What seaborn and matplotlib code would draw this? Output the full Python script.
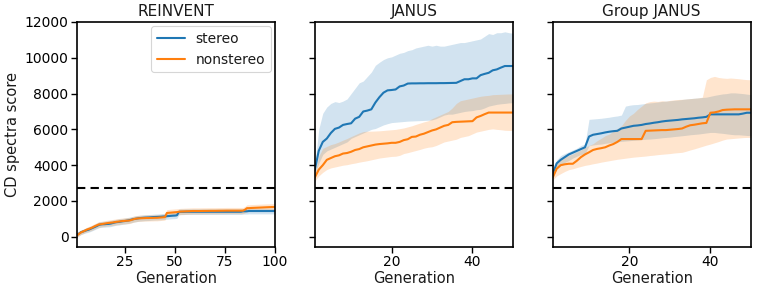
import numpy as np
import pandas as pd
import seaborn as sns
import matplotlib
matplotlib.use("Agg")
import matplotlib.pyplot as plt

# ---------------- data ----------------
reinvent_gen = list(range(1, 101))
reinvent_stereo_mean = [100, 170, 250, 290, 330, 370, 400, 450, 500, 550,
                        600, 660, 690, 700, 705, 715, 720, 740, 770, 800,
                        820, 830, 850, 870, 880, 900, 920, 950, 980, 1000,
                        1020, 1040, 1050, 1060, 1070, 1075, 1080, 1090, 1100, 1105,
                        1110, 1115, 1120, 1130, 1140, 1150, 1160, 1170, 1180, 1185,
                        1200, 1390, 1395, 1395, 1398, 1400, 1400, 1400, 1400, 1400,
                        1400, 1400, 1400, 1400, 1400, 1400, 1400, 1400, 1400, 1400,
                        1400, 1400, 1400, 1400, 1400, 1400, 1400, 1400, 1400, 1400,
                        1400, 1400, 1400, 1425, 1425, 1425, 1440, 1440, 1440, 1440,
                        1440, 1440, 1440, 1440, 1440, 1440, 1440, 1440, 1440, 1440]
reinvent_stereo_lo = [0, 50, 120, 160, 200, 230, 260, 300, 350, 400,
                      450, 500, 530, 540, 540, 550, 555, 570, 600, 630,
                      650, 660, 680, 700, 710, 730, 750, 780, 810, 830,
                      850, 870, 880, 890, 900, 905, 910, 920, 930, 935,
                      940, 945, 950, 960, 970, 980, 990, 1000, 1010, 1015,
                      1030, 1230, 1240, 1240, 1245, 1250, 1250, 1250, 1250, 1250,
                      1250, 1250, 1250, 1250, 1250, 1250, 1250, 1250, 1250, 1250,
                      1250, 1250, 1250, 1250, 1250, 1250, 1250, 1250, 1250, 1250,
                      1250, 1250, 1250, 1270, 1270, 1270, 1280, 1280, 1280, 1280,
                      1280, 1280, 1280, 1280, 1280, 1280, 1280, 1280, 1280, 1280]
reinvent_stereo_hi = [230, 300, 380, 420, 470, 510, 550, 600, 650, 700,
                      760, 820, 850, 860, 870, 880, 890, 910, 940, 960,
                      980, 1000, 1010, 1030, 1050, 1070, 1090, 1110, 1140, 1160,
                      1180, 1200, 1210, 1220, 1230, 1240, 1245, 1250, 1260, 1270,
                      1275, 1280, 1290, 1300, 1310, 1320, 1330, 1340, 1350, 1360,
                      1370, 1550, 1555, 1555, 1558, 1560, 1560, 1560, 1560, 1560,
                      1560, 1560, 1560, 1560, 1560, 1560, 1560, 1560, 1560, 1560,
                      1560, 1560, 1560, 1560, 1560, 1560, 1560, 1560, 1560, 1560,
                      1560, 1560, 1560, 1580, 1580, 1580, 1600, 1600, 1600, 1600,
                      1600, 1600, 1600, 1600, 1600, 1600, 1600, 1600, 1600, 1600]
reinvent_nonstereo_mean = [75, 150, 240, 290, 340, 400, 440, 480, 530, 590,
                           640, 690, 700, 720, 740, 760, 775, 790, 800, 820,
                           840, 850, 870, 880, 890, 900, 905, 930, 970, 1000,
                           1020, 1030, 1035, 1040, 1045, 1050, 1050, 1055, 1055, 1060,
                           1060, 1070, 1080, 1090, 1100, 1330, 1340, 1350, 1360, 1370,
                           1380, 1400, 1410, 1415, 1420, 1425, 1430, 1435, 1440, 1440,
                           1440, 1440, 1442, 1444, 1445, 1446, 1448, 1450, 1450, 1450,
                           1452, 1454, 1455, 1456, 1458, 1460, 1460, 1460, 1460, 1460,
                           1460, 1460, 1460, 1460, 1515, 1600, 1600, 1610, 1615, 1620,
                           1625, 1630, 1635, 1640, 1645, 1650, 1655, 1660, 1665, 1665]
reinvent_nonstereo_lo = [-20, 40, 120, 170, 220, 270, 300, 340, 380, 440,
                         490, 530, 540, 560, 580, 600, 610, 620, 630, 650,
                         670, 680, 700, 710, 720, 730, 735, 760, 800, 830,
                         850, 860, 865, 870, 875, 880, 880, 885, 885, 890,
                         890, 900, 910, 920, 930, 1150, 1160, 1170, 1180, 1190,
                         1200, 1230, 1240, 1245, 1250, 1255, 1260, 1265, 1270, 1270,
                         1270, 1270, 1272, 1274, 1275, 1276, 1278, 1280, 1280, 1280,
                         1282, 1284, 1285, 1286, 1288, 1290, 1290, 1290, 1290, 1290,
                         1290, 1290, 1290, 1290, 1340, 1420, 1420, 1430, 1435, 1440,
                         1445, 1450, 1455, 1460, 1465, 1470, 1475, 1480, 1485, 1485]
reinvent_nonstereo_hi = [180, 270, 360, 410, 460, 530, 580, 620, 680, 740,
                         790, 850, 860, 880, 900, 920, 940, 960, 970, 990,
                         1010, 1020, 1040, 1050, 1060, 1070, 1080, 1100, 1140, 1170,
                         1190, 1200, 1210, 1215, 1220, 1225, 1225, 1230, 1230, 1235,
                         1235, 1245, 1255, 1265, 1275, 1520, 1530, 1540, 1550, 1560,
                         1570, 1580, 1590, 1595, 1600, 1605, 1610, 1615, 1620, 1620,
                         1620, 1620, 1622, 1624, 1625, 1626, 1628, 1630, 1630, 1630,
                         1632, 1634, 1635, 1636, 1638, 1640, 1640, 1640, 1640, 1640,
                         1640, 1640, 1640, 1640, 1700, 1790, 1790, 1800, 1805, 1810,
                         1815, 1820, 1825, 1830, 1835, 1840, 1845, 1850, 1855, 1855]

janus_gen = list(range(1, 51))
janus_stereo_mean = [3700, 4800, 5300, 5490, 5800, 6030, 6100, 6250, 6300, 6340,
                     6600, 6700, 7000, 7050, 7120, 7500, 7800, 8050, 8180, 8200,
                     8230, 8400, 8450, 8560, 8570, 8570, 8575, 8575, 8580, 8580,
                     8580, 8585, 8585, 8590, 8595, 8600, 8700, 8800, 8800, 8850,
                     8850, 9030, 9100, 9160, 9300, 9350, 9450, 9540, 9540, 9540]
janus_stereo_lo = [3500, 4100, 4600, 4800, 4900, 5000, 5100, 5200, 5300, 5500,
                   5600, 5700, 5800, 5900, 6000, 6050, 6150, 6250, 6320, 6380,
                   6400, 6420, 6440, 6460, 6470, 6480, 6490, 6500, 6510, 6530,
                   6600, 6700, 6800, 6850, 6850, 6900, 6950, 7000, 7030, 7050,
                   7100, 7120, 7200, 7300, 7350, 7400, 7430, 7450, 7480, 7490]
janus_stereo_hi = [3900, 6000, 6900, 7250, 7450, 7550, 7500, 7580, 7700, 8000,
                   8300, 8600, 8700, 8950, 9200, 9580, 9750, 9900, 10000, 10050,
                   10150, 10250, 10300, 10400, 10450, 10550, 10600, 10650, 10700, 10650,
                   10700, 10650, 10650, 10700, 10750, 10800, 10850, 10850, 10900, 10950,
                   11000, 11050, 11200, 11350, 11300, 11400, 11400, 11450, 11400, 11370]
janus_nonstereo_mean = [3300, 3750, 4000, 4300, 4400, 4500, 4550, 4650, 4680, 4750,
                        4850, 4900, 5000, 5050, 5100, 5150, 5180, 5200, 5220, 5250,
                        5250, 5300, 5400, 5450, 5580, 5600, 5700, 5760, 5850, 5940,
                        6000, 6100, 6200, 6250, 6400, 6420, 6430, 6440, 6450, 6460,
                        6670, 6750, 6850, 6940, 6940, 6940, 6940, 6940, 6940, 6940]
janus_nonstereo_lo = [3100, 3400, 3600, 3760, 3850, 3900, 3950, 4000, 4030, 4080,
                      4120, 4170, 4210, 4250, 4300, 4350, 4400, 4430, 4460, 4490,
                      4500, 4550, 4650, 4700, 4760, 4820, 4880, 4950, 5000, 5030,
                      5100, 5200, 5300, 5350, 5400, 5450, 5550, 5600, 5650, 5750,
                      5850, 5900, 5950, 6000, 6030, 6000, 5980, 5950, 5940, 5940]
janus_nonstereo_hi = [3500, 4500, 4940, 5050, 5150, 5210, 5300, 5400, 5490, 5600,
                      5700, 5800, 5880, 5900, 5900, 5910, 5920, 5940, 5960, 5980,
                      6000, 6040, 6080, 6140, 6200, 6280, 6350, 6420, 6480, 6600,
                      6700, 6800, 6900, 7000, 7200, 7450, 7600, 7650, 7700, 7750,
                      7800, 7850, 7880, 7900, 7940, 7950, 7960, 7970, 7980, 7980]

group_gen = list(range(1, 51))
group_stereo_mean = [3500, 4100, 4300, 4450, 4600, 4700, 4800, 4900, 5000, 5600,
                     5700, 5740, 5780, 5830, 5870, 5900, 5920, 6050, 6100, 6150,
                     6200, 6220, 6250, 6300, 6330, 6370, 6400, 6440, 6470, 6490,
                     6510, 6530, 6560, 6580, 6600, 6620, 6650, 6670, 6700, 6840,
                     6840, 6840, 6840, 6840, 6840, 6840, 6840, 6880, 6930, 6930]
group_stereo_lo = [3300, 3800, 4000, 4150, 4260, 4400, 4500, 4600, 4630, 5090,
                   5130, 5160, 5180, 5220, 5250, 5280, 5310, 5330, 5350, 5370,
                   5390, 5410, 5430, 5450, 5460, 5480, 5500, 5530, 5550, 5570,
                   5600, 5620, 5645, 5670, 5700, 5720, 5740, 5770, 5800, 5830,
                   5830, 5800, 5780, 5750, 5720, 5700, 5700, 5680, 5660, 5650]
group_stereo_hi = [3700, 4300, 4540, 4650, 4750, 4850, 4950, 5100, 5180, 6560,
                   6580, 6600, 6620, 6650, 6680, 6720, 6750, 6800, 7300, 7350,
                   7380, 7390, 7420, 7450, 7480, 7500, 7530, 7560, 7580, 7600,
                   7620, 7640, 7670, 7700, 7720, 7740, 7760, 7780, 7800, 7850,
                   7900, 7940, 7980, 8000, 8040, 8040, 8020, 8000, 7970, 7940]
group_nonstereo_mean = [3300, 3800, 4000, 4050, 4080, 4080, 4250, 4450, 4600, 4720,
                        4850, 4910, 4950, 5000, 5100, 5180, 5300, 5460, 5460, 5460,
                        5460, 5460, 5460, 5920, 5930, 5940, 5950, 5960, 5960, 5980,
                        6000, 6020, 6050, 6150, 6230, 6260, 6300, 6340, 6360, 6930,
                        6950, 7000, 7080, 7100, 7110, 7120, 7120, 7120, 7120, 7120]
group_nonstereo_lo = [3160, 3400, 3530, 3650, 3750, 3800, 3870, 3930, 3990, 4030,
                      4080, 4120, 4170, 4210, 4250, 4290, 4330, 4360, 4390, 4420,
                      4450, 4470, 4490, 4510, 4540, 4560, 4590, 4610, 4630, 4650,
                      4680, 4700, 4720, 4780, 4850, 4910, 4980, 5050, 5120, 5180,
                      5250, 5320, 5400, 5460, 5480, 5500, 5520, 5540, 5550, 5550]
group_nonstereo_hi = [3500, 4100, 4360, 4450, 4550, 4630, 4750, 4850, 5000, 5100,
                      5200, 5370, 5500, 5650, 5740, 5900, 6050, 6200, 6500, 6750,
                      6900, 7120, 7300, 7480, 7550, 7580, 7560, 7600, 7580, 7620,
                      7650, 7670, 7680, 7700, 7720, 7740, 7760, 7800, 8770, 8900,
                      8960, 8900, 8870, 8850, 8870, 8850, 8830, 8800, 8780, 8770]

titles = ["REINVENT", "JANUS", "Group JANUS"]
series_names = ["stereo", "nonstereo"]
threshold = 2700
y_ticks = [0, 2000, 4000, 6000, 8000, 10000, 12000]

panels = [
    (reinvent_gen, [(reinvent_stereo_mean, reinvent_stereo_lo, reinvent_stereo_hi),
                    (reinvent_nonstereo_mean, reinvent_nonstereo_lo, reinvent_nonstereo_hi)]),
    (janus_gen, [(janus_stereo_mean, janus_stereo_lo, janus_stereo_hi),
                 (janus_nonstereo_mean, janus_nonstereo_lo, janus_nonstereo_hi)]),
    (group_gen, [(group_stereo_mean, group_stereo_lo, group_stereo_hi),
                 (group_nonstereo_mean, group_nonstereo_lo, group_nonstereo_hi)]),
]

# ---------------- plot ----------------
sns.set_style("ticks")
plt.rcParams['font.family'] = ['DejaVu Sans']
plt.rcParams['axes.edgecolor'] = 'black'
plt.rcParams['xtick.color'] = 'black'
plt.rcParams['ytick.color'] = 'black'
plt.rcParams['text.color'] = '#1a1a1a'
plt.rcParams['axes.labelcolor'] = '#1a1a1a'

palette = {"stereo": "#1f77b4", "nonstereo": "#ff7f0e"}

fig, axes = plt.subplots(1, 3, figsize=(7.6, 2.93), dpi=100, sharey=True)
fig.subplots_adjust(left=0.101, right=0.988, top=0.925, bottom=0.157, wspace=0.20)

for i, (ax, (gens, series)) in enumerate(zip(axes, panels)):
    frames = []
    for name, (mean, lo, hi) in zip(series_names, series):
        frames.append(pd.DataFrame({"Generation": gens, "score": mean, "kind": name}))
        ax.fill_between(gens, lo, hi, color=palette[name], alpha=0.2, linewidth=0)
    df = pd.concat(frames, ignore_index=True)
    sns.lineplot(data=df, x="Generation", y="score", hue="kind", palette=palette,
                 ax=ax, linewidth=1.5, legend=(i == 0))
    ax.axhline(threshold, color="black", linestyle="--", linewidth=1.5, dashes=(4, 2.5))
    ax.set_title(titles[i], fontsize=11, pad=4)
    ax.set_xlabel("Generation", fontsize=10.5, labelpad=1)
    ax.set_xlim(gens[0], gens[-1])
    ax.tick_params(labelsize=10, length=4, width=1, pad=2)
    for sp in ax.spines.values():
        sp.set_linewidth(1.2)
    if i == 0:
        ax.set_ylabel("CD spectra score", fontsize=10.5, labelpad=3)
        ax.set_xticks([25, 50, 75, 100])
        leg = ax.legend(loc="upper right", fontsize=10, frameon=True,
                        borderaxespad=0.3, handlelength=2.0)
        leg.get_frame().set_edgecolor("#cccccc")
        leg.get_frame().set_linewidth(0.8)
        for line in leg.get_lines():
            line.set_linewidth(1.5)
    else:
        ax.set_ylabel("")
        ax.set_xticks([20, 40])

axes[0].set_yticks(y_ticks)
axes[0].set_ylim(-570, 12000)

fig.savefig("out.png", dpi=100)
